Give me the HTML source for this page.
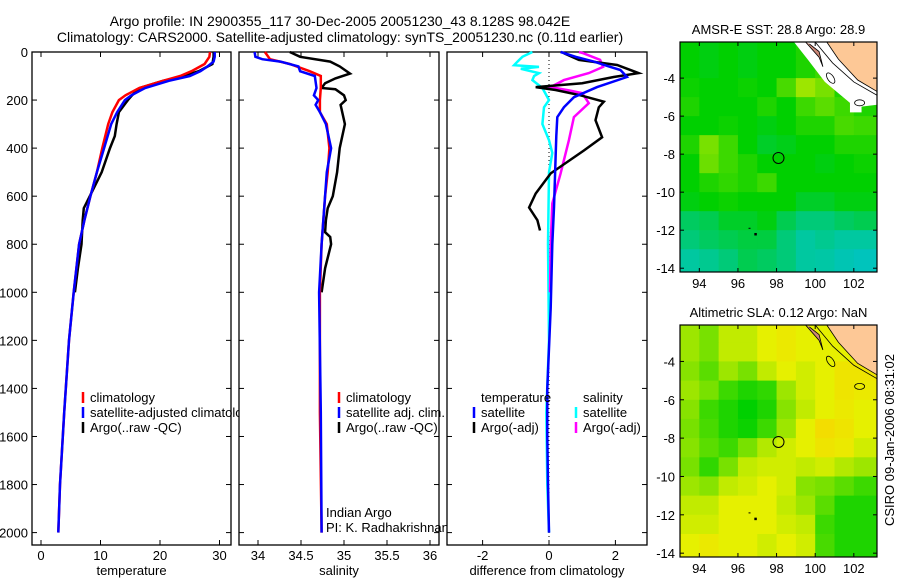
<!DOCTYPE html>
<html><head><meta charset="utf-8"><style>
html,body{margin:0;padding:0;background:#fff;}
svg{display:block;font-family:"Liberation Sans",sans-serif;}
text{font-size:13px;fill:#000;}
</style></head><body>
<svg id="fig" width="900" height="580" viewBox="0 0 900 580" xmlns="http://www.w3.org/2000/svg">
<text x="340" y="26" text-anchor="middle" style="font-size:14px">Argo profile: IN 2900355_117 30-Dec-2005 20051230_43 8.128S 98.042E</text>
<text x="340" y="42" text-anchor="middle" style="font-size:14px">Climatology: CARS2000. Satellite-adjusted climatology: synTS_20051230.nc (0.11d earlier)</text>
<g id="p1"></g>
<g id="p2"></g>
<g id="p3"></g>
<g id="m1"></g>
<g id="m2"></g>
<text x="0" y="0" transform="translate(894,440) rotate(-90)" text-anchor="middle">CSIRO 09-Jan-2006 08:31:02</text>
</svg>
<script>
// ---- temperature panel data ----
const tClimDepth=[0,20,50,80,100,120,150,180,200,250,300,400,500,600,700,800,1000,1200,1500,1800,2000];
const tClimVal=[28.4,28.3,27.5,25.3,23.4,20.5,16.5,14.2,13.1,12.0,11.3,10.3,9.4,8.3,7.3,6.4,5.5,4.7,3.9,3.2,2.9];
const tSatDepth=[0,20,40,60,80,100,120,150,180,200,250,300,400,500,600,700,800,1000,1200,1500,1800,2000];
const tSatVal=[29.2,29.2,29.0,28.0,26.8,25.0,21.5,17.5,15.2,14.1,12.8,11.8,10.6,9.4,8.3,7.3,6.4,5.5,4.7,3.9,3.2,2.9];
const tArgoDepth=[0,20,50,80,100,120,150,180,200,250,300,350,400,500,600,650,700,750,800,900,1000];
const tArgoVal=[29.0,29.0,28.8,26.5,24.0,20.5,16.6,15.3,14.6,13.1,12.7,12.4,11.6,10.2,8.2,7.2,7.0,6.9,6.8,6.2,5.7];
// ---- salinity panel data ----
const sClimDepth=[0,30,50,80,100,150,200,250,300,400,500,600,800,1000,1500,2000];
const sClimVal=[34.08,34.14,34.37,34.6,34.73,34.73,34.72,34.72,34.8,34.83,34.81,34.78,34.74,34.72,34.72,34.74];
const sSatDepth=[0,20,30,40,60,80,100,150,180,200,220,250,300,400,500,800,1000,1500,2000];
const sSatVal=[33.96,33.97,34.05,34.26,34.47,34.49,34.66,34.68,34.65,34.7,34.67,34.72,34.79,34.85,34.8,34.74,34.71,34.73,34.74];
const sArgoDepth=[0,20,40,60,90,110,130,150,155,180,200,220,300,400,500,600,650,700,750,770,800,900,1000];
const sArgoVal=[34.37,34.49,34.84,34.95,35.07,34.9,34.78,34.74,34.9,35.0,35.02,34.96,35.01,34.95,34.92,34.87,34.81,34.79,34.78,34.84,34.85,34.78,34.74];
// ---- difference panel data ----
const dTSatDepth=[0,20,40,60,75,104,146,188,230,271,350,438,647,800,1065,1400,1600,1800,2000];
const dTSatVal=[0.35,0.8,1.35,1.8,2.15,2.35,1.45,0.75,0.45,0.25,0.22,0.2,0.15,0.1,0.05,-0.05,-0.05,-0.03,0.0];
const dTArgoDepth=[5,33,54,88,104,130,146,158,180,207,230,284,355,410,505,589,647,700,743];
const dTArgoVal=[0.45,0.9,2.05,2.7,1.95,1.0,-0.4,0.2,0.95,1.65,1.5,1.4,1.6,1.05,0.05,-0.4,-0.6,-0.35,-0.27];
const dSSatDepth=[0,20,40,55,62,70,88,100,117,150,200,230,300,367,420,500,800,1200,1500,1800,2000];
const dSSatVal=[-0.5,-0.8,-0.95,-1.05,-0.3,-0.85,-0.3,-0.45,-0.5,-0.2,0.0,-0.15,-0.2,0.0,0.1,0.0,-0.03,0.0,-0.08,-0.05,0.0];
const dSArgoDepth=[0,5,33,62,88,117,146,160,171,213,271,367,505,630,800,1000];
const dSArgoVal=[0.9,1.03,1.54,1.63,1.2,0.45,0.05,0.6,1.0,1.2,0.75,0.6,0.35,0.1,0.05,0.03];
// ---- map data (rows: lat -2..-14, 1 deg; cols: lon 93..103, 1 deg) ----
const sstGrid=[
[.5,.48,.5,.48,.5,.5,.55,null,null,null],
[.5,.48,.5,.48,.5,.5,.55,.6,null,null],
[.52,.5,.5,.52,.5,.62,.75,.7,.55,null],
[.55,.5,.5,.5,.55,.5,.6,.65,.6,.55],
[.5,.5,.52,.5,.48,.5,.55,.55,.62,.6],
[.55,.7,.6,.5,.45,.47,.5,.5,.55,.55],
[.5,.68,.6,.55,.5,.5,.5,.48,.5,.52],
[.5,.55,.58,.55,.6,.5,.5,.5,.5,.5],
[.48,.5,.52,.5,.5,.5,.45,.45,.48,.48],
[.38,.4,.45,.45,.48,.4,.35,.35,.38,.4],
[.35,.38,.4,.42,.42,.35,.3,.32,.3,.3],
[.3,.32,.35,.4,.38,.35,.3,.28,.22,.18]];
const slaGrid=[
[.75,.7,.8,.8,.85,.88,.85,.85,.85,.85],
[.75,.7,.8,.8,.85,.88,.85,.85,.85,.85],
[.72,.65,.75,.7,.8,.85,.82,.85,.9,.9],
[.75,.7,.6,.55,.58,.75,.82,.85,.9,.88],
[.72,.6,.55,.5,.55,.72,.8,.85,.88,.85],
[.7,.62,.55,.52,.6,.75,.85,.93,.9,.85],
[.72,.65,.6,.7,.78,.82,.85,.9,.88,.82],
[.7,.58,.7,.8,.82,.82,.8,.82,.78,.75],
[.75,.72,.8,.82,.85,.82,.72,.7,.65,.6],
[.8,.8,.85,.85,.85,.8,.75,.65,.55,.55],
[.82,.82,.85,.85,.85,.82,.8,.6,.55,.55],
[.85,.88,.85,.85,.82,.85,.82,.62,.55,.55]];
const floatLon=98.1, floatLat=-8.2;
const tTicks=[0,10,20,30], sTicks=[34,34.5,35,35.5,36], dTicks=[-2,0,2];
const depthTicks=[0,200,400,600,800,1000,1200,1400,1600,1800,2000];
const lonTicks=[94,96,98,100,102], latTicks=[-4,-6,-8,-10,-12,-14];

const NS='http://www.w3.org/2000/svg';
function mk(tag,attrs,parent){const e=document.createElementNS(NS,tag);for(const k in attrs)e.setAttribute(k,attrs[k]);parent.appendChild(e);return e;}
const PT=52,PB=545;
const yD=d=>PT+d*0.2403;
function frame(g,x0,x1,xs,ticks,fmt,label,left){
  const r=mk('rect',{x:x0,y:PT,width:x1-x0,height:PB-PT,fill:'none',stroke:'#000','stroke-width':1.3},g);
  
  ticks.forEach(t=>{const x=xs(t);
    mk('line',{x1:x,x2:x,y1:PB,y2:PB-5,stroke:'#000'},g);mk('line',{x1:x,x2:x,y1:PT,y2:PT+5,stroke:'#000'},g);
    const tx=mk('text',{x:x,y:PB+15,'text-anchor':'middle'},g);tx.textContent=fmt(t);
    });
  depthTicks.forEach(d=>{const y=yD(d);
    mk('line',{x1:x0,x2:x0+5,y1:y,y2:y,stroke:'#000'},g);mk('line',{x1:x1,x2:x1-5,y1:y,y2:y,stroke:'#000'},g);
    if(left){const tx=mk('text',{x:x0-4,y:y+5,'text-anchor':'end'},g);tx.textContent=d;
      }});
  const lb=mk('text',{x:(x0+x1)/2,y:575,'text-anchor':'middle'},g);lb.textContent=label;
  
}
function line(g,xs,D,V,color,w,name){
  const p=mk('polyline',{points:D.map((d,i)=>xs(V[i]).toFixed(1)+','+yD(d).toFixed(1)).join(' '),fill:'none',stroke:color,'stroke-width':w},g);
  
}
function legend(g,x,y,items){items.forEach((it,i)=>{
  if(it.c)mk('line',{x1:x,x2:x,y1:y+i*15-10,y2:y+i*15+1,stroke:it.c,'stroke-width':2.5},g);
  const t=mk('text',{x:x+7,y:y+i*15},g);t.textContent=it.t;
  });}
// Panel 1
const g1=document.getElementById('p1');const xT=v=>41+v*5.95;
frame(g1,32,231,xT,tTicks,String,'temperature',true);
line(g1,xT,tArgoDepth,tArgoVal,'#000',2.5,'argo-temperature-line');
line(g1,xT,tClimDepth,tClimVal,'#f00',2.5,'climatology-temperature-line');
line(g1,xT,tSatDepth,tSatVal,'#00f',2.5,'satellite-temperature-line');
legend(g1,83,402,[{c:'#f00',t:'climatology'},{c:'#00f',t:'satellite-adjusted climatology'},{c:'#000',t:'Argo(..raw -QC)'}]);
// Panel 2
const g2=document.getElementById('p2');const xS=v=>258+(v-34)*86;
mk('rect',{x:239,y:PT,width:200,height:PB-PT,fill:'#fff'},g2);
frame(g2,239,439,xS,sTicks,String,'salinity',false);
line(g2,xS,sArgoDepth,sArgoVal,'#000',2.5,'argo-salinity-line');
line(g2,xS,sClimDepth,sClimVal,'#f00',2.5,'climatology-salinity-line');
line(g2,xS,sSatDepth,sSatVal,'#00f',2.5,'satellite-salinity-line');
legend(g2,339,402,[{c:'#f00',t:'climatology'},{c:'#00f',t:'satellite adj. clim.'},{c:'#000',t:'Argo(..raw -QC)'}]);
let t2=mk('text',{x:326,y:517},g2);t2.textContent='Indian Argo';
t2=mk('text',{x:326,y:532},g2);t2.textContent='PI: K. Radhakrishnan';
// Panel 3
const g3=document.getElementById('p3');const xDf=v=>549+v*33.2;
mk('rect',{x:447,y:PT,width:200,height:PB-PT,fill:'#fff'},g3);
frame(g3,447,647,xDf,dTicks,String,'difference from climatology',false);
mk('line',{x1:xDf(0),x2:xDf(0),y1:PT,y2:PB,stroke:'#000','stroke-dasharray':'1,3'},g3);
line(g3,xDf,dSSatDepth,dSSatVal,'#0ff',2.5,'satellite-salinity-diff-line');
line(g3,xDf,dSArgoDepth,dSArgoVal,'#f0f',2.5,'argo-salinity-diff-line');
line(g3,xDf,dTArgoDepth,dTArgoVal,'#000',2.5,'argo-temperature-diff-line');
line(g3,xDf,dTSatDepth,dTSatVal,'#00f',2.5,'satellite-temperature-diff-line');
legend(g3,474,402,[{c:null,t:'temperature'},{c:'#00f',t:'satellite'},{c:'#000',t:'Argo(-adj)'}]);
legend(g3,576,402,[{c:null,t:'salinity'},{c:'#0ff',t:'satellite'},{c:'#f0f',t:'Argo(-adj)'}]);
// Maps
const stops=[[0,[0,190,230]],[0.3,[0,200,160]],[0.5,[0,208,0]],[0.7,[120,225,0]],[0.85,[230,240,0]],[1,[255,205,0]]];
function cmap(v){for(let i=1;i<stops.length;i++){if(v<=stops[i][0]){const a=stops[i-1],b=stops[i],f=(v-a[0])/(b[0]-a[0]);
  return 'rgb('+a[1].map((c,k)=>Math.round(c+(b[1][k]-c)*f)).join(',')+')';}}return 'rgb(255,205,0)';}
function map(id,top,bottom,grid,title,masked){
  const g=document.getElementById(id);const L=680,R=877;
  const xs=lon=>L+(lon-93)*(R-L)/10.2;const ys=lat=>top+(-2.1-lat)*(bottom-top)/12.1;
  grid.forEach((row,r)=>row.forEach((v,c)=>{if(v===null)return;
    const x0=Math.max(L,xs(93+c)),x1=Math.min(R,xs(94+c+(c==9?0.3:0))),y0=Math.max(top,ys(-2-r)),y1=Math.min(bottom,ys(-3-r-(r==11?0.2:0)));
    const e=mk('rect',{x:x0,y:y0,width:x1-x0+0.5,height:y1-y0+0.5,fill:cmap(v)},g);
    }));
  if(masked){const p=mk('polygon',{points:[[98.9,-2.1],[103.2,-2.1],[103.2,-5.4],[102.4,-5.5],[102.4,-5.8],[101.8,-5.8],[101.8,-5.3],[100.5,-4.2],[99.6,-3.0]].map(q=>xs(q[0])+','+ys(q[1])).join(' '),fill:'#fff'},g);
    }
  const land=mk('polygon',{points:[[100.6,-2.1],[103.2,-2.1],[103.2,-4.7],[102.2,-4.1],[101.2,-3.0]].map(q=>xs(q[0])+','+ys(q[1])).join(' '),fill:'#fdc896',stroke:'#000','stroke-width':0.8},g);
  
  mk('polyline',{points:[[100.0,-2.1],[100.9,-3.2],[102.0,-4.2],[103.2,-4.9]].map(q=>xs(q[0])+','+ys(q[1])).join(' '),fill:'none',stroke:'#000','stroke-width':0.8},g);
  mk('polyline',{points:[[99.5,-2.1],[100.2,-2.9],[100.4,-3.4],[100.2,-2.6],[99.7,-2.2]].map(q=>xs(q[0])+','+ys(q[1])).join(' '),fill:'#c87',stroke:'#000','stroke-width':0.8},g);
  mk('ellipse',{cx:xs(102.3),cy:ys(-5.3),rx:5,ry:3,fill:'none',stroke:'#000','stroke-width':0.8},g);
  mk('ellipse',{cx:xs(100.8),cy:ys(-4.0),rx:3,ry:6,fill:'none',stroke:'#000','stroke-width':0.8,transform:'rotate(-35 '+xs(100.8)+' '+ys(-4.0)+')'},g);
  const c=mk('circle',{cx:xs(floatLon),cy:ys(floatLat),r:5.5,fill:'none',stroke:'#000','stroke-width':1},g);
  
  mk('rect',{x:xs(96.9)-1,y:ys(-12.2)-1,width:2.5,height:2.5,fill:'#000'},g);
  mk('rect',{x:xs(96.6)-1,y:ys(-11.9)-0.5,width:2,height:1,fill:'#000'},g);
  const f=mk('rect',{x:L,y:top,width:R-L,height:bottom-top,fill:'none',stroke:'#000','stroke-width':1.2},g);
  
  lonTicks.forEach(t=>{const x=xs(t);mk('line',{x1:x,x2:x,y1:bottom,y2:bottom-4,stroke:'#000'},g);mk('line',{x1:x,x2:x,y1:top,y2:top+4,stroke:'#000'},g);
    const e=mk('text',{x:x,y:bottom+16,'text-anchor':'middle'},g);e.textContent=t;});
  latTicks.forEach(t=>{const y=ys(t);mk('line',{x1:L,x2:L+4,y1:y,y2:y,stroke:'#000'},g);mk('line',{x1:R,x2:R-4,y1:y,y2:y,stroke:'#000'},g);
    const e=mk('text',{x:L-5,y:y+5,'text-anchor':'end'},g);e.textContent=t;});
  const tt=mk('text',{x:(L+R)/2,y:top-8,'text-anchor':'middle'},g);tt.textContent=title;
}
map('m1',42,272,sstGrid,'AMSR-E SST: 28.8 Argo: 28.9',true);
map('m2',325,557,slaGrid,'Altimetric SLA: 0.12 Argo: NaN',false);
</script>
</body></html>
